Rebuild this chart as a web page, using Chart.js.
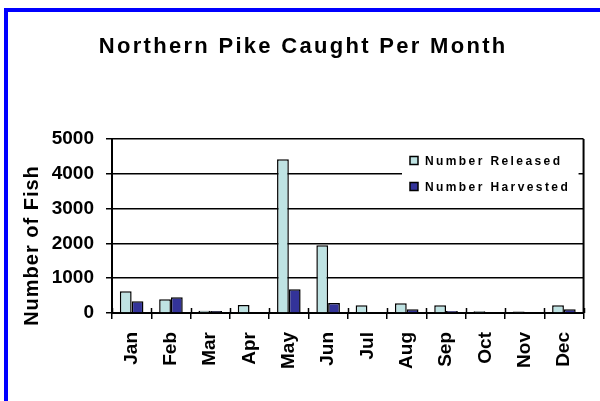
<!DOCTYPE html>
<html>
<head>
<meta charset="utf-8">
<script src="https://cdn.jsdelivr.net/npm/chart.js@4"></script>
<style>
html, body { margin: 0; padding: 0; background: #fff; }
</style>
</head>
<body>
<canvas id="pike" width="600" height="401"></canvas>
<script>
// data
const months = ['Jan', 'Feb', 'Mar', 'Apr', 'May', 'Jun', 'Jul', 'Aug', 'Sep', 'Oct', 'Nov', 'Dec'];
const released = [625, 395, 65, 230, 4420, 1950, 222, 280, 222, 50, 40, 222];
const harvested = [337, 452, 55, 0, 683, 288, 0, 107, 58, 0, 0, 107];
const yTicks = [0, 1000, 2000, 3000, 4000, 5000];
const seriesNames = ['Number Released', 'Number Harvested'];
const seriesColors = ['#bfe3e3', '#333399'];
const titleText = 'Northern Pike Caught Per Month';
const yTitleText = 'Number of Fish';

const FONT = "'Liberation Sans', Arial, sans-serif";

// draw text one char at a time so we can space the letters out
function spaced(ctx, text, x, y, spacing, align) {
	const chars = [...text];
	const widths = chars.map(c => ctx.measureText(c).width);
	let total = widths.reduce((s, w) => s + w, 0) + spacing * (chars.length - 1);
	let cx = align === 'center' ? x - total / 2 : x;
	ctx.textAlign = 'left';
	chars.forEach((c, i) => {
		ctx.fillText(c, cx, y);
		cx += widths[i] + spacing;
	});
}

const decor = {
	id: 'decor',
	beforeDraw(chart) {
		const ctx = chart.ctx;
		ctx.save();
		ctx.fillStyle = '#fff';
		ctx.fillRect(0, 0, chart.width, chart.height);
		// blue frame, top and left only
		ctx.fillStyle = '#0000ff';
		ctx.fillRect(4, 8, chart.width - 4, 4);
		ctx.fillRect(4, 8, 4, chart.height - 8);
		ctx.restore();
	},
	afterDraw(chart) {
		const ctx = chart.ctx;
		const a = chart.chartArea;
		const x = chart.scales.x;
		ctx.save();

		// right edge of plot
		ctx.strokeStyle = '#000';
		ctx.lineWidth = 2;
		ctx.beginPath();
		ctx.moveTo(a.right, a.top);
		ctx.lineTo(a.right, a.bottom);
		ctx.stroke();

		// category ticks poke up into the plot too
		const half = (x.getPixelForValue(1) - x.getPixelForValue(0)) / 2;
		ctx.lineWidth = 1.5;
		ctx.beginPath();
		for (let i = 0; i <= months.length; i++) {
			const px = Math.round(x.getPixelForValue(i) - half) + 0.5;
			ctx.moveTo(px, a.bottom - 5);
			ctx.lineTo(px, a.bottom);
		}
		ctx.stroke();

		// legend box sits over the gridlines
		const lx = 402, ly = 143;
		ctx.fillStyle = '#fff';
		ctx.fillRect(lx, ly, a.right - 5 - lx, 62);
		ctx.font = 'bold 12px ' + FONT;
		ctx.textBaseline = 'alphabetic';
		seriesNames.forEach((name, i) => {
			const cy = 160.5 + i * 26;
			ctx.fillStyle = seriesColors[i];
			ctx.fillRect(410, cy - 4, 8, 8);
			ctx.strokeStyle = '#000';
			ctx.lineWidth = 1.5;
			ctx.strokeRect(410, cy - 4, 8, 8);
			ctx.fillStyle = '#000';
			spaced(ctx, name, 425, cy + 4.5, 2.4, 'left');
		});

		// chart title
		ctx.fillStyle = '#000';
		ctx.font = 'bold 22px ' + FONT;
		spaced(ctx, titleText, 302, 53, 2.3, 'center');

		// y axis title
		ctx.translate(32, 246);
		ctx.rotate(-Math.PI / 2);
		ctx.font = 'bold 20px ' + FONT;
		ctx.textBaseline = 'middle';
		spaced(ctx, yTitleText, 0, 0, 1, 'center');

		ctx.restore();
	}
};

var ctx = document.getElementById('pike').getContext('2d');
var myChart = new Chart(ctx, {
	type: 'bar',
	data: {
		labels: months,
		datasets: [{
			label: seriesNames[0],
			data: released,
			backgroundColor: seriesColors[0],
			borderColor: '#000',
			borderWidth: 1.5
		}, {
			label: seriesNames[1],
			data: harvested,
			backgroundColor: seriesColors[1],
			borderColor: '#000',
			borderWidth: 1.5
		}]
	},
	options: {
		responsive: false,
		animation: false,
		devicePixelRatio: 1,
		categoryPercentage: 0.6,
		barPercentage: 1,
		layout: { padding: { top: 139, right: 7, bottom: 0, left: 0 } },
		plugins: {
			legend: { display: false },
			tooltip: { enabled: false }
		},
		scales: {
			x: {
				offset: true,
				grid: { display: true, drawOnChartArea: false, offset: true, tickLength: 6, color: '#000', lineWidth: 1.5 },
				border: { display: true, color: '#000', width: 2 },
				ticks: {
					minRotation: 90,
					maxRotation: 90,
					autoSkip: false,
					padding: 13,
					color: '#000',
					font: { family: FONT, size: 19, weight: 'bold' }
				},
				afterFit(s) { s.height = 88; }
			},
			y: {
				min: 0,
				max: 5000,
				afterBuildTicks(s) { s.ticks = yTicks.map(v => ({ value: v })); },
				grid: { color: '#000', lineWidth: 1.5, tickLength: 6 },
				border: { display: true, color: '#000', width: 2 },
				ticks: {
					padding: 12,
					color: '#000',
					font: { family: FONT, size: 19, weight: 'bold' },
					callback: v => String(v)
				},
				afterFit(s) { s.width = 112; }
			}
		}
	},
	plugins: [decor]
});
</script>
</body>
</html>
